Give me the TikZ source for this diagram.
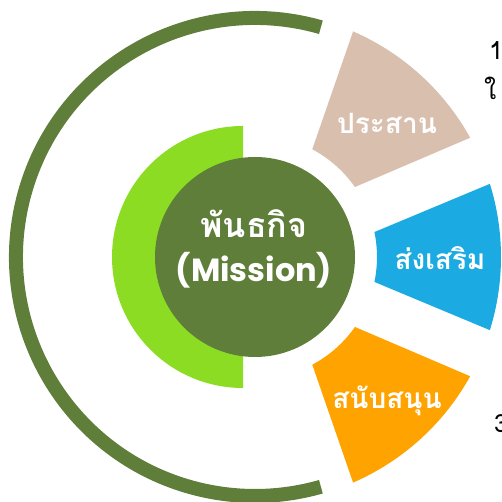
\documentclass[tikz,border=0pt]{standalone}
\usepackage{fontspec}
\newfontfamily\thaifont[Script=Thai]{Loma}
\newfontfamily\latinfont{Poppins}
\definecolor{missiongreen}{RGB}{94,126,58}
\definecolor{limegreen}{RGB}{139,220,34}
\definecolor{sandbeige}{RGB}{217,191,174}
\definecolor{skyblue}{RGB}{27,170,225}
\definecolor{amber}{RGB}{255,163,0}
\tikzset{
  label/.style={text=white, font=\thaifont\bfseries\fontsize{28}{34}\selectfont},
  side/.style={text=black, font=\thaifont\fontsize{25}{30}\selectfont, inner sep=0pt}
}
\begin{document}
\begin{tikzpicture}[x=1pt,y=1pt]
\useasboundingbox (0,0) rectangle (501,502);
\coordinate (c) at (255,245);
\draw[missiongreen, line width=14pt] (c) ++(74:239) arc (74:286:239);
\fill[limegreen] (243,376) arc (90:270:131) -- cycle;
\fill[missiongreen] (c) circle (100);
% blocks: inner arc r=122, outer arc r=246, both round c
\fill[sandbeige] ([shift={(35:122)}]c) -- ([shift={(29:246)}]c) arc (29:66.5:246) -- ([shift={(62:122)}]c) arc (62:35:122) -- cycle;
\fill[skyblue] ([shift={(-11.8:122)}]c) -- ([shift={(-17.3:246)}]c) arc (-17.3:17.3:246) -- ([shift={(11.8:122)}]c) arc (11.8:-11.8:122) -- cycle;
\fill[amber] ([shift={(-62:122)}]c) -- ([shift={(-66.5:246)}]c) arc (-66.5:-29:246) -- ([shift={(-35:122)}]c) arc (-35:-62:122) -- cycle;
\node[text=white, font=\thaifont\bfseries\fontsize{34}{40}\selectfont, anchor=base] (mission) at (254,264) {พันธกิจ};
\node[text=white, font=\latinfont\bfseries\fontsize{32}{40}\selectfont, anchor=base] (missionen) at (254,220) {(Mission)};
\node[label] (prasan) at (387,379) {ประสาน};
\node[label] (songsoem) at (440,244) {ส่งเสริม};
\node[label] (sanapsanun) at (387,101) {สนับสนุน};
\node[side, anchor=base west] (one) at (489,442) {1};
\node[side, anchor=base west] (lineb) at (484,402) {ใ};
\node[side, anchor=base west] (three) at (494,69) {3};
\end{tikzpicture}
\end{document}
